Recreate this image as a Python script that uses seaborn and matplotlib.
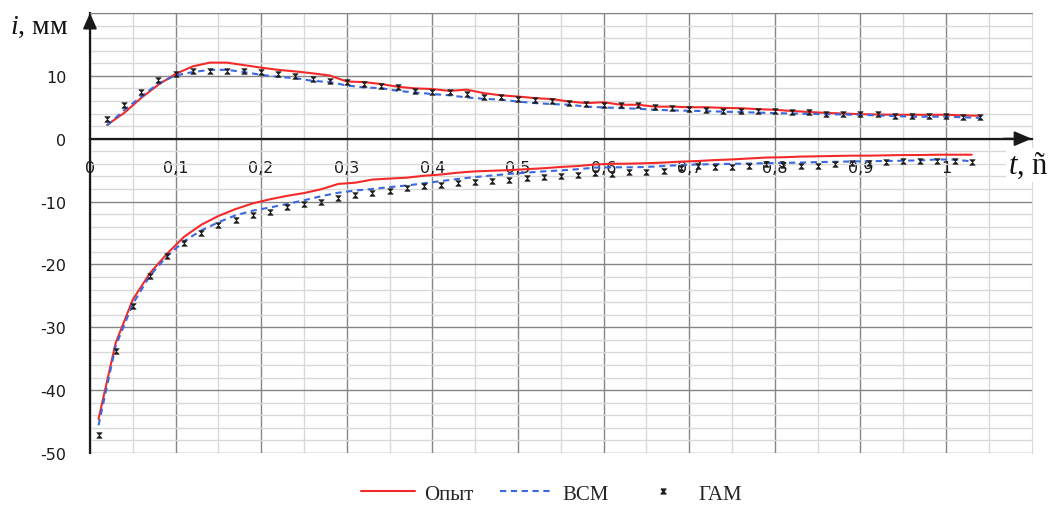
import numpy as np
import pandas as pd
import matplotlib
matplotlib.use("Agg")
import matplotlib.pyplot as plt
from matplotlib.lines import Line2D
from matplotlib.ticker import MultipleLocator, FixedLocator, FuncFormatter
import seaborn as sns

# ---- data -------------------------------------------------------------
# upper branch (positive i), t = 0.02 ... 1.04 s
t_upper = np.round(np.arange(0.02, 1.041, 0.02), 2)
opyt_upper = [2.2, 4.1, 6.5, 8.6, 10.3, 11.5, 12.1, 12.1, 11.7, 11.3,
              10.95, 10.7, 10.4, 10.05, 9.1, 9.0, 8.7, 8.25, 8.0, 7.9,
              7.6, 7.8, 7.25, 6.9, 6.7, 6.45, 6.3, 5.9, 5.66, 5.8,
              5.4, 5.4, 5.1, 5.1, 5.0, 5.0, 4.9, 4.85, 4.7, 4.6,
              4.4, 4.25, 4.1, 4.0, 3.9, 3.85, 3.8, 3.8, 3.8, 3.8,
              3.7, 3.65]
vsm_upper = [2.1, 4.55, 6.7, 8.8, 10.05, 10.6, 10.95, 10.95, 10.6, 10.15,
             9.84, 9.63, 9.2, 9.0, 8.47, 8.15, 8.04, 7.6, 7.35, 7.1,
             6.9, 6.56, 6.35, 6.2, 5.9, 5.66, 5.5, 5.4, 5.1, 4.97,
             4.87, 4.76, 4.6, 4.5, 4.44, 4.38, 4.3, 4.23, 4.15, 4.07,
             4.0, 3.95, 3.9, 3.85, 3.8, 3.7, 3.6, 3.5, 3.5, 3.5,
             3.4, 3.3]
gam_upper = [3.17, 5.4, 7.5, 9.37, 10.26, 10.8, 10.8, 10.8, 10.8, 10.6,
             10.26, 10.05, 9.47, 9.2, 8.94, 8.68, 8.36, 8.15, 7.6, 7.35,
             7.35, 7.1, 6.7, 6.56, 6.3, 6.2, 6.03, 5.66, 5.5, 5.4,
             5.3, 5.3, 5.03, 4.87, 4.7, 4.6, 4.44, 4.44, 4.44, 4.34,
             4.18, 4.18, 3.9, 3.9, 3.9, 3.9, 3.65, 3.65, 3.65, 3.65,
             3.4, 3.4]

# lower branch (negative i), t = 0.01 ... 1.03 s
t_lower = np.round(np.arange(0.01, 1.031, 0.02), 2)
opyt_lower = [-44.6, -32.5, -25.6, -21.4, -18.3, -15.6, -13.7, -12.3, -11.2, -10.3,
              -9.65, -9.1, -8.65, -8.05, -7.2, -7.0, -6.5, -6.35, -6.2, -5.9,
              -5.7, -5.4, -5.2, -5.1, -5.0, -4.85, -4.7, -4.5, -4.35, -4.1,
              -4.0, -3.97, -3.9, -3.8, -3.65, -3.55, -3.4, -3.3, -3.15, -3.0,
              -2.95, -2.85, -2.8, -2.75, -2.7, -2.7, -2.65, -2.6, -2.6, -2.55,
              -2.55, -2.55]
vsm_lower = [-45.6, -33.0, -26.3, -21.8, -18.7, -16.3, -14.6, -13.3, -12.2, -11.45,
             -10.95, -10.4, -9.8, -9.15, -8.6, -8.25, -8.0, -7.7, -7.45, -7.1,
             -6.75, -6.4, -6.1, -5.85, -5.6, -5.4, -5.2, -5.05, -4.85, -4.6,
             -4.55, -4.55, -4.5, -4.35, -4.2, -4.1, -4.05, -4.0, -3.95, -3.9,
             -3.85, -3.8, -3.72, -3.68, -3.62, -3.58, -3.55, -3.5, -3.45, -3.3,
             -3.35, -3.6]
gam_lower = [-47.1, -33.8, -26.6, -21.8, -18.7, -16.6, -15.0, -13.7, -12.9, -12.1,
             -11.6, -10.8, -10.4, -10.0, -9.5, -8.9, -8.6, -8.25, -7.9, -7.6,
             -7.3, -7.0, -6.9, -6.8, -6.56, -6.24, -6.14, -6.0, -5.7, -5.45,
             -5.6, -5.3, -5.3, -5.1, -4.66, -4.4, -4.55, -4.55, -4.4, -4.1,
             -4.2, -4.3, -4.3, -4.1, -3.9, -3.9, -3.7, -3.6, -3.6, -3.6,
             -3.6, -3.7]

x_ticks = np.round(np.arange(0.0, 1.01, 0.1), 1)
y_ticks = np.arange(-50, 21, 10)
series_names = ["Опыт", "ВСМ", "ГАМ"]

# ---- style -------------------------------------------------------------
sns.set_style("white")
plt.rcParams["font.family"] = ["DejaVu Sans"]
plt.rcParams["mathtext.fontset"] = "custom"
plt.rcParams["mathtext.it"] = "Liberation Serif:italic"
plt.rcParams["mathtext.rm"] = "Liberation Serif"

RED = "#f42a2a"
BLUE = "#3a68e0"
MARK = "#1e1e1e"
MAJOR = "#858585"
MINOR = "#d9d9d9"
hourglass = [(-1, 1), (1, 1), (-1, -1), (1, -1), (-1, 1)]

fig = plt.figure(figsize=(10.51, 5.06), dpi=100)
ax = fig.add_axes([0.0856, 0.1028, 0.8960, 0.8696])

for t, v in ((t_upper, opyt_upper), (t_lower, opyt_lower)):
    sns.lineplot(x=t, y=v, ax=ax, color=RED, linewidth=1.5, zorder=4)
for t, v in ((t_upper, vsm_upper), (t_lower, vsm_lower)):
    sns.lineplot(x=t, y=v, ax=ax, color=BLUE, linewidth=1.5,
                 linestyle=(0, (3.0, 2.2)), zorder=5)
for t, v in ((t_upper, gam_upper), (t_lower, gam_lower)):
    sns.scatterplot(x=t, y=v, ax=ax, color=MARK, marker=hourglass, s=16,
                    linewidth=0.4, edgecolor=MARK, zorder=6)

# ---- axes ---------------------------------------------------------------
ax.set_xlim(0, 1.1)
ax.set_ylim(-50, 20)
ax.xaxis.set_major_locator(FixedLocator(x_ticks))
ax.xaxis.set_minor_locator(FixedLocator(np.round(np.arange(0.05, 1.06, 0.1), 2)))
ax.yaxis.set_major_locator(FixedLocator(y_ticks))
ax.yaxis.set_minor_locator(MultipleLocator(2))

ax.grid(which="major", color=MAJOR, linewidth=1.0, zorder=1)
ax.grid(which="minor", color=MINOR, linewidth=1.0, zorder=0)
ax.set_axisbelow(True)

ax.xaxis.set_major_formatter(FuncFormatter(
    lambda v, p: ("%g" % v).replace(".", ",")))
ax.yaxis.set_major_formatter(FuncFormatter(
    lambda v, p: "" if v > 10 else "%d" % v))

ax.spines["bottom"].set_position(("data", 0))
ax.spines["bottom"].set_color("#1a1a1a")
ax.spines["bottom"].set_linewidth(1.6)
ax.spines["bottom"].set_zorder(3)
ax.spines["left"].set_color("#1a1a1a")
ax.spines["left"].set_linewidth(1.6)
ax.spines["top"].set_color(MAJOR)
ax.spines["right"].set_color(MINOR)

ax.tick_params(axis="x", which="major", direction="out", length=6, width=1.3,
               color="#1a1a1a", pad=9, labelsize=11.5, labelcolor="#1a1a1a")
ax.tick_params(axis="y", which="major", direction="out", length=8, width=1.3,
               color="#1a1a1a", pad=9, labelsize=11.5, labelcolor="#1a1a1a")
ax.tick_params(which="minor", length=0)
ax.set_xlabel("")
ax.set_ylabel("")

# axis arrows
ax.annotate("", xy=(0, 1.0), xycoords="axes fraction",
            xytext=(0, 0.965), textcoords="axes fraction",
            arrowprops=dict(arrowstyle="-|>,head_length=0.95,head_width=0.42",
                            color="#1a1a1a", lw=1.4, shrinkA=0, shrinkB=0),
            annotation_clip=False, zorder=7)
ax.annotate("", xy=(1.0, 0), xycoords=("axes fraction", "data"),
            xytext=(0.97, 0), textcoords=("axes fraction", "data"),
            arrowprops=dict(arrowstyle="-|>,head_length=1.05,head_width=0.45",
                            color="#1a1a1a", lw=1.4, shrinkA=0, shrinkB=0),
            annotation_clip=False, zorder=7)

# axis titles
fig.text(10 / 1051, 1 - 34 / 506, r"$i$, мм", fontsize=20,
         family="Liberation Serif", ha="left", va="baseline", color="#111111")
fig.text(1008 / 1051, 1 - 174 / 506, r"$t$, ñ", fontsize=22,
         family="Liberation Serif", ha="left", va="baseline", color="#111111",
         bbox=dict(facecolor="white", edgecolor="none", pad=1.5))

# legend
handles = [
    Line2D([], [], color=RED, linewidth=1.5),
    Line2D([], [], color=BLUE, linewidth=1.5, linestyle=(0, (3.0, 2.2))),
    Line2D([], [], color=MARK, marker=hourglass, markersize=3.5,
           linestyle="none"),
]
fig.legend(handles, series_names, loc="center", bbox_to_anchor=(0.525, 0.022),
           ncol=3, frameon=False, handlelength=2.6, handletextpad=0.4,
           columnspacing=1.3, prop={"family": "Liberation Serif", "size": 15})

fig.savefig("out.png", dpi=100)
